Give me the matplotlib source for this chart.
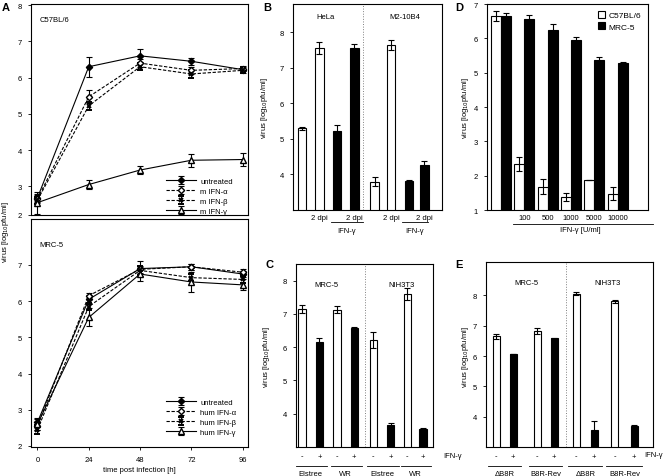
import numpy as np
import matplotlib
matplotlib.use("Agg")
import matplotlib.pyplot as plt
from matplotlib.transforms import blended_transform_factory

# ---- data ----
hours = [0, 24, 48, 72, 96]

# A, C57BL/6 (mouse IFN)
mus_untreated = [2.68, 6.30, 6.60, 6.45, 6.22]
mus_untreated_err = [0.10, 0.28, 0.18, 0.10, 0.08]
mus_alpha = [2.65, 5.47, 6.40, 6.20, 6.25]
mus_alpha_err = [0.10, 0.18, 0.10, 0.10, 0.08]
mus_beta = [2.62, 5.22, 6.30, 6.10, 6.20]
mus_beta_err = [0.10, 0.12, 0.10, 0.12, 0.08]
mus_gamma = [2.55, 3.05, 3.45, 3.72, 3.74]
mus_gamma_err = [0.30, 0.13, 0.10, 0.18, 0.18]

# A, MRC-5 (human IFN)
hum_untreated = [2.65, 6.05, 6.90, 6.95, 6.75]
hum_untreated_err = [0.12, 0.12, 0.20, 0.08, 0.08]
hum_alpha = [2.55, 6.15, 6.88, 6.95, 6.80]
hum_alpha_err = [0.10, 0.08, 0.10, 0.08, 0.08]
hum_beta = [2.45, 5.85, 6.85, 6.65, 6.60]
hum_beta_err = [0.12, 0.10, 0.12, 0.10, 0.10]
hum_gamma = [2.60, 5.55, 6.75, 6.53, 6.45]
hum_gamma_err = [0.15, 0.25, 0.20, 0.27, 0.15]

# B
b_pos = [0, 1, 2, 3, 4.15, 5.1, 6.1, 7.0]
b_vals = [5.30, 7.57, 5.22, 7.57, 3.80, 7.65, 3.83, 4.27]
b_err = [0.05, 0.17, 0.18, 0.10, 0.12, 0.15, 0.02, 0.12]
b_black = [False, False, True, True, False, False, True, True]
b_labels = ["", "2 dpi", "", "2 dpi", "", "2 dpi", "", "2 dpi"]

# C
c_pos = [0, 1, 2, 3, 4.1, 5.1, 6.05, 6.95]
c_vals = [7.15, 6.17, 7.13, 6.57, 6.22, 3.65, 7.60, 3.55]
c_err = [0.12, 0.10, 0.10, 0.03, 0.25, 0.07, 0.17, 0.01]
c_groups = ["Elstree", "WR", "Elstree", "WR"]

# D
d_doses = ["", "100", "500", "1000", "5000", "10000"]
d_c57 = [6.65, 2.35, 1.68, 1.38, 1.88, 1.48]
d_c57_err = [0.15, 0.20, 0.22, 0.12, 0.0, 0.18]
d_mrc5 = [6.65, 6.57, 6.25, 5.95, 5.37, 5.28]
d_mrc5_err = [0.08, 0.10, 0.18, 0.08, 0.10, 0.02]

# E
e_pos = [0, 1, 2.4, 3.4, 4.7, 5.75, 6.95, 8.1]
e_vals = [6.65, 6.07, 6.82, 6.58, 8.05, 3.55, 7.80, 3.68]
e_err = [0.08, 0.01, 0.10, 0.01, 0.05, 0.32, 0.05, 0.04]
e_groups = ["\u0394B8R", "B8R-Rev", "\u0394B8R", "B8R-Rev"]

W, H = 664, 477
FS = 5.5
plt.rcParams["font.family"] = ["Liberation Sans", "DejaVu Sans"]
plt.rcParams["font.size"] = FS

fig = plt.figure(figsize=(W / 100, H / 100), dpi=100)


def add_ax(x0, y0, x1, y1):
    ax = fig.add_axes([x0 / W, 1 - y1 / H, (x1 - x0) / W, (y1 - y0) / H])
    for s in ax.spines.values():
        s.set_linewidth(0.8)
    ax.tick_params(length=2.5, width=0.6, labelsize=FS, pad=4)
    return ax


def ftext(x, y, s, **kw):
    fig.text(x / W, 1 - y / H, s, **kw)


ylab = "virus [log$_{10}$pfu/ml]"

# ---- panel A ----
def draw_kinetics(ax, series, names):
    styles = [
        dict(ls="-", marker="D", mfc="black", ms=3.2),
        dict(ls=(0, (3, 1.5)), marker="D", mfc="white", ms=3.2),
        dict(ls=(0, (3, 1.5)), marker="x", mfc="black", ms=3.5, mew=1.4),
        dict(ls="-", marker="^", mfc="white", ms=4.5),
    ]
    for (vals, err), st, name in zip(series, styles, names):
        ax.errorbar(hours, vals, yerr=err, color="black", lw=0.8,
                    elinewidth=0.8, capsize=2, capthick=0.8, mec="black",
                    label=name, **st)


axA1 = add_ax(31, 5, 248, 216)
draw_kinetics(axA1,
              [(mus_untreated, mus_untreated_err), (mus_alpha, mus_alpha_err),
               (mus_beta, mus_beta_err), (mus_gamma, mus_gamma_err)],
              ["untreated", "m IFN-\u03b1", "m IFN-\u03b2", "m IFN-\u03b3"])
axA1.set_xlim(-3, 98.5)
axA1.set_ylim(2.21, 8.03)
axA1.set_yticks([2.21, 3, 4, 5, 6, 7, 8])
axA1.set_yticklabels(["2", "3", "4", "5", "6", "7", "8"])
axA1.set_xticks([])
axA1.text(0.04, 0.92, "C57BL/6", transform=axA1.transAxes, fontsize=FS)
axA1.legend(loc="lower left", bbox_to_anchor=(0.6, -0.02), frameon=False,
            fontsize=FS, handlelength=4, labelspacing=0.35, handletextpad=0.5,
            borderaxespad=0.2)

axA2 = add_ax(31, 220, 248, 448)
draw_kinetics(axA2,
              [(hum_untreated, hum_untreated_err), (hum_alpha, hum_alpha_err),
               (hum_beta, hum_beta_err), (hum_gamma, hum_gamma_err)],
              ["untreated", "hum IFN-\u03b1", "hum IFN-\u03b2", "hum IFN-\u03b3"])
axA2.set_xlim(-3, 98.5)
axA2.set_ylim(1.97, 8.27)
axA2.set_yticks([2, 3, 4, 5, 6, 7])
axA2.set_xticks(hours)
axA2.set_xlabel("time post infection [h]", fontsize=FS, labelpad=2)
axA2.text(0.04, 0.88, "MRC-5", transform=axA2.transAxes, fontsize=FS)
axA2.legend(loc="lower left", bbox_to_anchor=(0.6, 0.03), frameon=False,
            fontsize=FS, handlelength=4, labelspacing=0.35, handletextpad=0.5,
            borderaxespad=0.2)
ftext(6, 232, ylab, rotation=90, ha="center", va="center", fontsize=FS)


# ---- bar helpers ----
def bars(ax, pos, vals, err, black, width):
    for p, v, e, b in zip(pos, vals, err, black):
        ax.bar(p, v, width=width, color="black" if b else "white",
               edgecolor="black", linewidth=0.8, zorder=2)
        ax.errorbar(p, v, yerr=e, color="black", lw=0.8, capsize=2.2,
                    capthick=0.8, zorder=1 if b else 3)


def under_line(ax, x0, x1, ay):
    tr = blended_transform_factory(ax.transData, ax.transAxes)
    ax.plot([x0, x1], [ay, ay], color="black", lw=0.6, transform=tr,
            clip_on=False)


def under_text(ax, x, ay, s, **kw):
    tr = blended_transform_factory(ax.transData, ax.transAxes)
    kw.setdefault("ha", "center")
    ax.text(x, ay, s, transform=tr, va="center", fontsize=FS, **kw)


# ---- panel B ----
axB = add_ax(293, 5, 442, 211)
bars(axB, b_pos, b_vals, b_err, b_black, 0.47)
axB.set_xlim(-0.51, 8.0)
axB.set_ylim(3.0, 8.8)
axB.set_yticks([4, 5, 6, 7, 8])
axB.set_xticks(b_pos)
axB.set_xticklabels(b_labels)
axB.tick_params(axis="x", length=0, pad=3)
axB.axvline(3.5, color="gray", lw=0.7, ls=":")
axB.text(0.22, 0.93, "HeLa", transform=axB.transAxes, ha="center", fontsize=FS)
axB.text(0.75, 0.93, "M2-10B4", transform=axB.transAxes, ha="center",
         fontsize=FS)
for a, b in [(1.65, 3.5), (5.7, 7.2)]:
    under_line(axB, a, b, -0.058)
    under_text(axB, (a + b) / 2, -0.098, "IFN-\u03b3")
ftext(264, 108, ylab, rotation=90, ha="center", va="center", fontsize=FS)

# ---- panel C ----
axC = add_ax(296, 265, 433, 448)
bars(axC, c_pos, c_vals, c_err, [False, True] * 4, 0.42)
axC.set_xlim(-0.35, 7.53)
axC.set_ylim(3.0, 8.5)
axC.set_yticks([4, 5, 6, 7, 8])
axC.set_xticks(c_pos)
axC.set_xticklabels(["-", "+"] * 4)
axC.tick_params(axis="x", length=0, pad=4)
axC.axvline(3.6, color="gray", lw=0.7, ls=":")
axC.text(0.22, 0.88, "MRC-5", transform=axC.transAxes, ha="center", fontsize=FS)
axC.text(0.77, 0.88, "NIH3T3", transform=axC.transAxes, ha="center",
         fontsize=FS)
for i, g in enumerate(c_groups):
    a, b = c_pos[2 * i] - 0.35, c_pos[2 * i + 1] + 0.45
    under_line(axC, a, b, -0.105)
    under_text(axC, (c_pos[2 * i] + c_pos[2 * i + 1]) / 2, -0.145, g)
ftext(443, 457, "IFN-\u03b3", ha="left", va="center", fontsize=FS)
ftext(266, 357, ylab, rotation=90, ha="center", va="center", fontsize=FS)

# ---- panel D ----
axD = add_ax(487, 5, 648, 211)
d_x = np.arange(len(d_doses))
bw = 0.43
axD.bar(d_x - bw / 2, d_c57, width=bw, color="white", edgecolor="black",
        linewidth=0.8, label="C57BL/6", zorder=2)
axD.bar(d_x + bw / 2, d_mrc5, width=bw, color="black", edgecolor="black",
        linewidth=0.8, label="MRC-5", zorder=2)
axD.errorbar(d_x - bw / 2, d_c57, yerr=d_c57_err, fmt="none", ecolor="black",
             elinewidth=0.8, capsize=2.2, capthick=0.8, zorder=3)
axD.errorbar(d_x + bw / 2, d_mrc5, yerr=d_mrc5_err, fmt="none", ecolor="black",
             elinewidth=0.8, capsize=2.2, capthick=0.8, zorder=1)
axD.set_xlim(-0.6, 6.3)
axD.set_ylim(1, 7)
axD.set_yticks([1, 2, 3, 4, 5, 6, 7])
axD.set_xticks(d_x)
axD.set_xticklabels(d_doses)
axD.tick_params(axis="x", length=0, pad=3)
axD.legend(loc="upper right", frameon=False, fontsize=FS + 0.5,
           handlelength=0.9, handleheight=0.9, handletextpad=0.4,
           labelspacing=0.4, borderaxespad=0.4)
under_line(axD, 0.5, 6.5, -0.068)
under_text(axD, 3.4, -0.095, "IFN-\u03b3 [U/ml]")
ftext(465, 108, ylab, rotation=90, ha="center", va="center", fontsize=FS)

# ---- panel E ----
axE = add_ax(486, 263, 653, 448)
bars(axE, e_pos, e_vals, e_err, [False, True] * 4, 0.40)
axE.set_xlim(-0.6, 9.2)
axE.set_ylim(3.0, 9.1)
axE.set_yticks([4, 5, 6, 7, 8])
axE.set_xticks(e_pos)
axE.set_xticklabels(["-", "+"] * 4)
axE.tick_params(axis="x", length=0, pad=4)
axE.axvline(4.1, color="gray", lw=0.7, ls=":")
axE.text(0.24, 0.88, "MRC-5", transform=axE.transAxes, ha="center", fontsize=FS)
axE.text(0.73, 0.88, "NIH3T3", transform=axE.transAxes, ha="center",
         fontsize=FS)
for i, g in enumerate(e_groups):
    a, b = e_pos[2 * i] - 0.5, e_pos[2 * i + 1] + 0.45
    under_line(axE, a, b, -0.105)
    under_text(axE, (e_pos[2 * i] + e_pos[2 * i + 1]) / 2, -0.145, g)
ftext(644, 456, "IFN-\u03b3", ha="left", va="center", fontsize=FS)
ftext(465, 357, ylab, rotation=90, ha="center", va="center", fontsize=FS)

# ---- panel letters ----
for x, y, s in [(2, 8, "A"), (263, 8, "B"), (265, 265, "C"), (455, 8, "D"),
                (455, 265, "E")]:
    ftext(x, y, s, fontsize=8, fontweight="bold", ha="left", va="center")

fig.savefig("out.png", dpi=100)
